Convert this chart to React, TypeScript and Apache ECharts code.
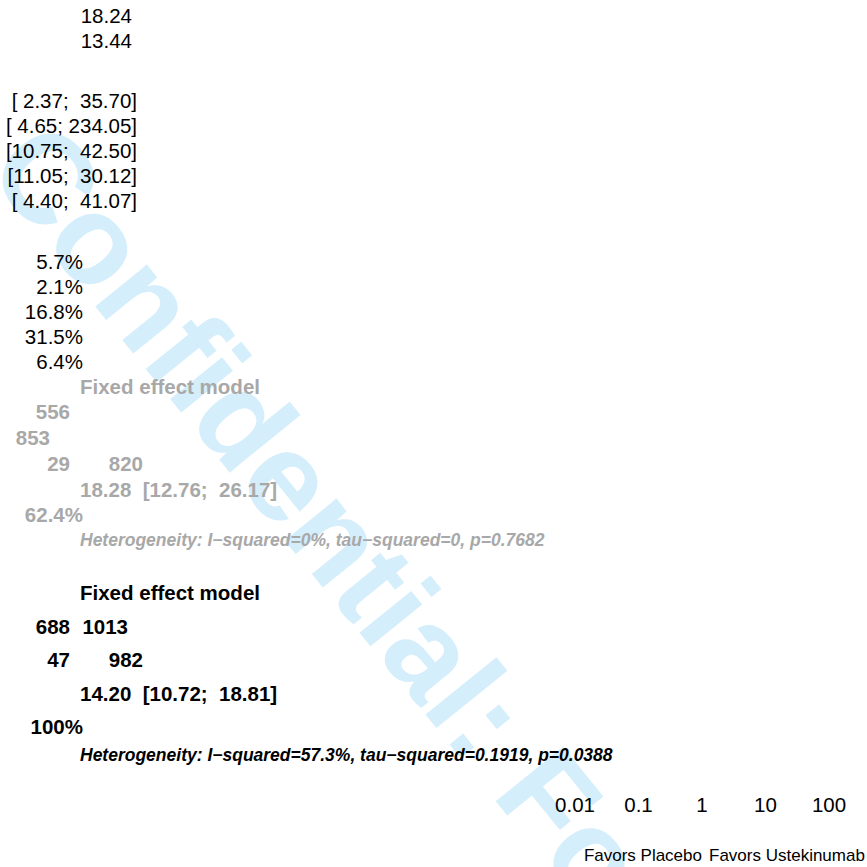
import React, { useEffect, useRef } from "react";
import * as echarts from "echarts";

// ---- data ----
const studyEstimates = ["18.24", "13.44"];
const studyCIs = ["[ 2.37;  35.70]", "[ 4.65; 234.05]", "[10.75;  42.50]", "[11.05;  30.12]", "[ 4.40;  41.07]"];
const studyWeights = ["5.7%", "2.1%", "16.8%", "31.5%", "6.4%"];

const modelLabel = "Fixed effect model";
const subgroupCounts = ["556", "853", "29", "820"];
const subgroupEstimate = ["18.28", "12.76", "26.17"];
const subgroupWeight = ["62.4%"];
const subgroupHeterogeneity = ["Heterogeneity: I\u2212squared=0%, tau\u2212squared=0, p=0.7682"];

const overallCounts = ["688", "1013", "47", "982"];
const overallEstimate = ["14.20", "10.72", "18.81"];
const overallWeight = ["100%"];
const overallHeterogeneity = ["Heterogeneity: I\u2212squared=57.3%, tau\u2212squared=0.1919, p=0.0388"];

const tickValues = [0.01, 0.1, 1, 10, 100];
const tickLabels = ["0.01", "0.1", "1", "10", "100"];
const directionLabels = ["Favors Placebo", "Favors Ustekinumab"];
const watermarkText = ["Confidential: For internal use only"];

const FONT = "'Liberation Sans', Arial, Helvetica, sans-serif";
const GRAY = "#a8a8a8";

function txt(
  text: string,
  x: number,
  y: number,
  align: "left" | "right" | "center",
  opts: { size?: number; weight?: string; italic?: boolean; color?: string } = {}
) {
  return {
    type: "text",
    x,
    y,
    z: 10,
    silent: true,
    style: {
      text,
      fill: opts.color ?? "#000",
      fontFamily: FONT,
      fontSize: opts.size ?? 20.5,
      fontWeight: opts.weight ?? "normal",
      fontStyle: opts.italic ? "italic" : "normal",
      align,
      verticalAlign: "middle",
      textAlign: align,
      textVerticalAlign: "middle",
    },
  };
}

const fmtCI = (e: string[]) => `${e[0]}  [${e[1]};  ${e[2]}]`;

export default function App() {
  const ref = useRef<HTMLDivElement>(null);
  useEffect(() => {
    document.body.style.margin = "0";
    if (!ref.current) return;
    const chart = echarts.init(ref.current, null, { renderer: "svg" });

    chart.setOption({
      animation: false,
      backgroundColor: "#fff",
      grid: { left: 575, right: 38, top: 10, bottom: 81 },
      xAxis: {
        type: "log",
        logBase: 10,
        min: tickValues[0],
        max: tickValues[tickValues.length - 1],
        axisLine: { show: false },
        axisTick: { show: false },
        splitLine: { show: false },
        minorTick: { show: false },
        axisLabel: {
          show: true,
          color: "#000",
          fontFamily: FONT,
          fontSize: 20.5,
          margin: 8,
          formatter: (v: number) => {
            const i = Math.round(Math.log10(v)) + 2;
            return tickLabels[i] ?? "";
          },
        },
      },
      yAxis: { type: "value", show: false, min: 0, max: 1 },
      series: [{ type: "scatter", data: [], symbolSize: 0 }],
    });

    const px1 = chart.convertToPixel({ xAxisIndex: 0 }, 1) as number;

    const els: any[] = [];
    // watermark
    els.push({
      type: "text",
      x: 18,
      y: 142,
      rotation: (-51 * Math.PI) / 180,
      z: -100,
      silent: true,
      style: {
        text: watermarkText[0],
        fill: "#d5eefb",
        fontFamily: FONT,
        fontSize: 126,
        fontWeight: "bold",
        align: "left",
        verticalAlign: "middle",
        textAlign: "left",
        textVerticalAlign: "middle",
      },
    });

    // study estimates
    const estY = [15, 40];
    studyEstimates.forEach((s, i) => els.push(txt(s, 132, estY[i], "right")));
    // study CIs
    studyCIs.forEach((s, i) => els.push(txt(s, 137, 100 + 25 * i, "right")));
    // study weights
    studyWeights.forEach((s, i) => els.push(txt(s, 83, 261 + 25 * i, "right")));

    // subgroup (gray, bold)
    const gb = { weight: "bold", color: GRAY };
    els.push(txt(modelLabel, 80, 386, "left", gb));
    els.push(txt(subgroupCounts[0], 70, 411, "right", gb));
    els.push(txt(subgroupCounts[1], 50, 437, "right", gb));
    els.push(txt(subgroupCounts[2], 70, 463, "right", gb));
    els.push(txt(subgroupCounts[3], 143, 463, "right", gb));
    els.push(txt(fmtCI(subgroupEstimate), 80, 489, "left", gb));
    els.push(txt(subgroupWeight[0], 83, 514, "right", gb));
    els.push(txt(subgroupHeterogeneity[0], 80, 540, "left", { ...gb, italic: true, size: 17.5 }));

    // overall (black, bold)
    const bb = { weight: "bold", color: "#000" };
    els.push(txt(modelLabel, 80, 592, "left", bb));
    els.push(txt(overallCounts[0], 70, 626, "right", bb));
    els.push(txt(overallCounts[1], 128, 626, "right", bb));
    els.push(txt(overallCounts[2], 70, 659, "right", bb));
    els.push(txt(overallCounts[3], 143, 659, "right", bb));
    els.push(txt(fmtCI(overallEstimate), 80, 693, "left", bb));
    els.push(txt(overallWeight[0], 83, 726, "right", bb));
    els.push(txt(overallHeterogeneity[0], 80, 755, "left", { ...bb, italic: true, size: 17.5 }));

    // direction labels
    els.push(txt(directionLabels[0], px1 + 0, 855, "right", { size: 17 }));
    els.push(txt(directionLabels[1], px1 + 7, 855, "left", { size: 17 }));

    chart.setOption({ graphic: { elements: els } });

    return () => chart.dispose();
  }, []);
  return <div ref={ref} style={{ width: 867, height: 867 }} />;
}
